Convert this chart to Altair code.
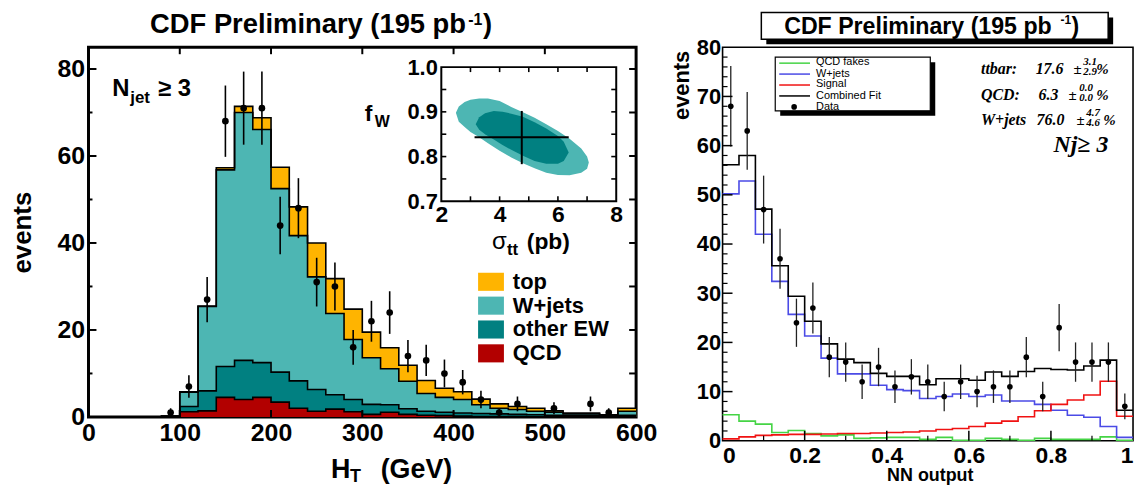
import altair as alt
import pandas as pd
import numpy as np

SANS = "Liberation Sans"
SERIF = "Liberation Serif"

# ================= LEFT PANEL DATA (H_T, stacked) =================
ht_edges = list(range(0, 620, 20))  # bin edges 0..600
ht_qcd = [0, 0, 0, 0, 0, 1.2, 1.4, 4.5, 4.0, 4.5, 3.4, 2.0, 1.3, 1.8, 1.2,
          0.6, 1.1, 0.6, 0.4, 0.3, 0.2, 0.1, 0.1, 0.1, 0.05, 0.05, 0.05, 0.05, 0.05, 0.1]
ht_ew = [0, 0, 0, 0, 0, 1.2, 4.6, 7.1, 9.0, 8.0, 6.9, 6.3, 5.0, 3.3, 2.8,
         2.3, 1.7, 1.3, 0.9, 0.8, 0.7, 0.7, 0.6, 0.5, 0.45, 0.35, 0.25, 0.25, 0.15, 0.3]
ht_wjets = [0, 0, 0, 0, 0.2, 3.3, 19.4, 45.2, 57.0, 53.6, 42.2, 33.4, 25.9, 18.7, 13.8,
            10.7, 8.3, 6.3, 4.1, 3.4, 3.1, 2.0, 1.3, 1.1, 0.8, 0.7, 0.4, 0.4, 0.2, 0.9]
ht_top = [0, 0, 0, 0, 0, 0.1, 0.1, 0.5, 1.4, 2.7, 4.9, 6.6, 7.8, 8.0, 7.0,
          5.9, 4.8, 3.7, 3.0, 2.1, 1.8, 1.3, 1.0, 0.7, 0.7, 0.3, 0.2, 0.2, 0.1, 0.7]
comp_names = ["QCD", "other EW", "W+jets", "top"]

ht_data_x = [90, 110, 130, 150, 170, 190, 210, 230, 250, 270, 290, 310, 330, 350,
             370, 390, 410, 430, 450, 470, 510, 550, 570]
ht_data_y = [1, 7, 27, 68, 71, 71, 44, 48, 31, 30, 16, 22, 24, 14, 13, 10, 8, 4, 1, 3, 2, 3, 1]
ht_data_err = [1.0, 2.6, 5.2, 8.2, 8.4, 8.4, 6.6, 6.9, 5.6, 5.5, 4.0, 4.7, 4.9, 3.7,
               3.6, 3.2, 2.8, 2.0, 1.0, 1.7, 1.4, 1.7, 1.0]

ht_x_labels = [0, 100, 200, 300, 400, 500, 600]
ht_y_labels = [0, 20, 40, 60, 80]

# inset: contours in (sigma_tt, f_W)
outer_sig = [2.5, 2.6, 2.8, 3.0, 3.3, 3.6, 4.0, 4.4, 4.8, 5.2, 5.6, 6.0, 6.4, 6.8, 7.0, 7.06]
outer_hi = [0.898, 0.912, 0.922, 0.927, 0.930, 0.930, 0.924, 0.911, 0.899, 0.887,
            0.872, 0.857, 0.840, 0.818, 0.800, 0.787]
outer_lo = [0.898, 0.878, 0.866, 0.855, 0.843, 0.830, 0.813, 0.798, 0.785, 0.774,
            0.764, 0.759, 0.758, 0.764, 0.773, 0.787]
inner_sig = [3.18, 3.3, 3.5, 3.8, 4.1, 4.4, 4.8, 5.2, 5.6, 6.0, 6.2, 6.37]
inner_hi = [0.872, 0.888, 0.897, 0.902, 0.900, 0.896, 0.889, 0.877, 0.863, 0.846, 0.833, 0.809]
inner_lo = [0.872, 0.860, 0.850, 0.838, 0.826, 0.815, 0.802, 0.790, 0.784, 0.784, 0.790, 0.809]
fit_sig, fit_sig_lo, fit_sig_hi = 4.76, 3.14, 6.37
fit_fw, fit_fw_lo, fit_fw_hi = 0.843, 0.783, 0.902

# ================= RIGHT PANEL DATA (NN output) =================
nn_edges = [round(i * 0.04, 2) for i in range(26)]
nn_centers = [round(0.02 + i * 0.04, 2) for i in range(25)]
nn_qcd = [5.3, 4.0, 3.4, 1.7, 2.1, 1.5, 1.0, 1.2, 0.5, 0.6, 0.7, 0.7, 0.3, 0.7, 0.1,
          0.1, 0.5, 0.3, 0.1, 0.5, 0.3, 0.3, 0.3, 0.8, 0.1]
nn_wjets = [50.2, 52.8, 42.0, 32.4, 25.7, 21.3, 16.8, 13.6, 13.6, 11.3, 10.4, 10.2, 8.6,
            9.0, 9.5, 9.0, 9.3, 8.1, 8.1, 7.4, 6.2, 5.2, 4.8, 2.9, 0.7]
nn_signal = [0.4, 0.8, 1.1, 1.2, 1.3, 1.3, 1.4, 1.5, 1.5, 1.6, 1.7, 1.8, 2.0, 2.3, 2.5,
             2.9, 3.6, 4.0, 4.9, 6.1, 7.4, 8.3, 9.3, 12.1, 5.0]
nn_comb = [56.1, 58.0, 47.1, 35.6, 29.4, 24.3, 19.7, 16.6, 15.9, 13.7, 13.1, 13.1, 11.4,
           12.6, 12.6, 12.3, 14.0, 13.1, 14.1, 14.7, 14.5, 14.4, 15.2, 16.4, 6.2]
nn_data = [68, 63, 47, 37, 24, 27, 17, 16, 12, 15, 11, 13, 12, 9, 12, 10, 11, 11, 17, 9,
           23, 16, 16, 16, 7]
nn_err = [8.2, 7.9, 6.9, 6.1, 4.9, 5.2, 4.1, 4.0, 3.5, 3.9, 3.3, 3.6, 3.5, 3.0, 3.5, 3.2,
          3.3, 3.3, 4.1, 3.0, 4.8, 4.0, 4.0, 4.0, 2.6]
nn_series = [("QCD fakes", nn_qcd, "#45d445"), ("W+jets", nn_wjets, "#4b4be6"),
             ("Signal", nn_signal, "#f01212"), ("Combined Fit", nn_comb, "#000000")]
nn_x_labels = [0, 0.2, 0.4, 0.6, 0.8, 1]
nn_y_labels = [0, 10, 20, 30, 40, 50, 60, 70, 80]

ONE = pd.DataFrame({"k": [0]})


def txt(text, x, y, size, weight="bold", font=SANS, style="normal", align="left",
        baseline="alphabetic", color="black"):
    return alt.Chart(ONE).mark_text(text=text, fontSize=size, fontWeight=weight, font=font,
                                    fontStyle=style, align=align, baseline=baseline,
                                    color=color).encode(x=alt.value(x), y=alt.value(y))


def ticks(vals, fixed, side, length, X, Y, thick=2.0):
    df = pd.DataFrame({"a": vals, "b": [fixed] * len(vals)})
    if side in ("bottom", "top"):
        off = -length / 2 if side == "bottom" else length / 2
        return alt.Chart(df).mark_tick(orient="vertical", size=length, thickness=thick,
                                       yOffset=off, color="black", opacity=1).encode(
            x=X("a:Q"), y=Y("b:Q"))
    off = length / 2 if side == "left" else -length / 2
    return alt.Chart(df).mark_tick(orient="horizontal", size=length, thickness=thick,
                                   xOffset=off, color="black", opacity=1).encode(
        x=X("b:Q"), y=Y("a:Q"))


# ---------------- left panel ----------------
LW, LH = 551, 372
XL = alt.Scale(domain=[0, 600], nice=False, zero=False)
YL = alt.Scale(domain=[0, 85], nice=False, zero=False)
x_axis_l = alt.Axis(values=ht_x_labels, labelFontSize=25, labelFontWeight="bold",
                    labelPadding=4, ticks=False, domain=False, grid=False, title=None,
                    labelOverlap=False, labelFlush=False, labelFont=SANS)
y_axis_l = alt.Axis(values=ht_y_labels, labelFontSize=25, labelFontWeight="bold",
                    labelPadding=4, ticks=False, domain=False, grid=False, title="events",
                    titleFontSize=26, titleFontWeight="bold", titleAngle=270, titleX=-58,
                    titleY=LH / 2, titleAlign="center", titleBaseline="alphabetic",
                    labelOverlap=False, labelFont=SANS, titleFont=SANS)


def XLe(f):
    return alt.X(f, scale=XL, axis=x_axis_l)


def YLe(f):
    return alt.Y(f, scale=YL, axis=y_axis_l, stack=None)


cum = np.cumsum(np.array([ht_qcd, ht_ew, ht_wjets, ht_top], dtype=float), axis=0)
rows = []
for name, c in zip(comp_names, cum):
    ys = list(c) + [c[-1]]
    for xv, yv in zip(ht_edges, ys):
        rows.append({"comp": name, "x": xv, "y": round(float(yv), 3)})
steps = pd.DataFrame(rows)

color_scale = alt.Scale(domain=["top", "W+jets", "other EW", "QCD"],
                        range=["#ffb400", "#4db6b3", "#018081", "#b20000"])
leg = alt.Legend(orient="none", legendX=392, legendY=223, title=None,
                 symbolType="M-1,-0.7H1V0.7H-1Z", symbolSize=676, symbolStrokeWidth=0,
                 symbolOpacity=1, labelFontSize=22, labelFontWeight="bold", labelFont=SANS,
                 labelOffset=9, rowPadding=0, padding=0, labelLimit=300)


def area(name):
    return alt.Chart(steps).transform_filter(alt.datum.comp == name).mark_area(
        interpolate="step-after").encode(
        x=XLe("x:Q"), y=YLe("y:Q"),
        color=alt.Color("comp:N", scale=color_scale, legend=leg))


step_lines = alt.Chart(steps).mark_line(interpolate="step-after", color="black",
                                        strokeWidth=1.6).encode(
    x=XLe("x:Q"), y=YLe("y:Q"), detail="comp:N")

pts_l = pd.DataFrame({"x": ht_data_x, "y": ht_data_y,
                      "lo": [max(0, a - b) for a, b in zip(ht_data_y, ht_data_err)],
                      "hi": [a + b for a, b in zip(ht_data_y, ht_data_err)]})
err_l = alt.Chart(pts_l).mark_rule(color="black", strokeWidth=1.6).encode(
    x=XLe("x:Q"), y=YLe("lo:Q"), y2="hi:Q")
dot_l = alt.Chart(pts_l).mark_circle(color="black", size=45, opacity=1).encode(
    x=XLe("x:Q"), y=YLe("y:Q"))

main_left = alt.layer(
    area("top"), area("W+jets"), area("other EW"), area("QCD"), step_lines, err_l, dot_l,
    ticks([100, 200, 300, 400, 500], 0, "bottom", 7, XLe, YLe),
    ticks([100, 200, 300, 400, 500], 85, "top", 7, XLe, YLe),
    ticks([20, 40, 60, 80], 0, "left", 8, XLe, YLe),
    ticks([10, 30, 50, 70], 0, "left", 4, XLe, YLe),
    ticks([10, 20, 30, 40, 50, 60, 70, 80], 600, "right", 7, XLe, YLe),
    # title
    txt("CDF Preliminary (195 pb", 62, -14, 27.5),
    txt("-1", 382, -22, 16),
    txt(")", 397, -14, 27.5),
    # N_jet >= 3
    txt("N", 24, 49, 24),
    txt("jet", 42, 56, 17),
    txt("\u2265 3", 70, 49, 24),
    # x title H_T (GeV)
    txt("H", 244, 433, 27),
    txt("T", 263, 437, 18),
    txt("(GeV)", 294, 433, 27),
    # inset titles
    txt("f", 278, 74, 23),
    txt("W", 288, 80, 16),
    txt("\u03c3", 406, 203, 24, weight="normal"),
    txt("tt", 421, 209, 17),
    txt("(pb)", 441, 203, 23),
)

XI = alt.Scale(domain=[2, 8], range=[355, 531], nice=False, zero=False)
YI = alt.Scale(domain=[0.7, 1.0], range=[155, 20], nice=False, zero=False)
x_axis_in = alt.Axis(orient="bottom", offset=-(LH - 155), values=[2, 4, 6, 8],
                     labelFontSize=23, labelFontWeight="bold", labelPadding=2, ticks=False,
                     domain=False, grid=False, title=None, labelOverlap=False,
                     labelFlush=False, labelFont=SANS)
y_axis_in = alt.Axis(orient="left", offset=-355, values=[0.7, 0.8, 0.9, 1.0], format=".1f",
                     labelFontSize=22, labelFontWeight="bold", labelPadding=4, ticks=False,
                     domain=False, grid=False, title=None, labelOverlap=False, labelFont=SANS)


def XIe(f):
    return alt.X(f, scale=XI, axis=x_axis_in)


def YIe(f):
    return alt.Y(f, scale=YI, axis=y_axis_in)


outer_df = pd.DataFrame({"s": outer_sig, "lo": outer_lo, "hi": outer_hi})
inner_df = pd.DataFrame({"s": inner_sig, "lo": inner_lo, "hi": inner_hi})
outer = alt.Chart(outer_df).mark_area(color="#4db6b3").encode(
    x=XIe("s:Q"), y=YIe("lo:Q"), y2="hi:Q")
inner = alt.Chart(inner_df).mark_area(color="#018081").encode(
    x=XIe("s:Q"), y=YIe("lo:Q"), y2="hi:Q")
cross_h = alt.Chart(pd.DataFrame({"a": [fit_sig_lo], "b": [fit_sig_hi], "f": [fit_fw]})).mark_rule(
    color="black", strokeWidth=2).encode(x=XIe("a:Q"), x2="b:Q", y=YIe("f:Q"))
cross_v = alt.Chart(pd.DataFrame({"s": [fit_sig], "a": [fit_fw_lo], "b": [fit_fw_hi]})).mark_rule(
    color="black", strokeWidth=2).encode(x=XIe("s:Q"), y=YIe("a:Q"), y2="b:Q")
frame = alt.Chart(pd.DataFrame({"x1": [2], "x2": [8], "y1": [0.7], "y2": [1.0]})).mark_rect(
    fillOpacity=0, stroke="black", strokeWidth=2).encode(
    x=XIe("x1:Q"), x2="x2:Q", y=YIe("y1:Q"), y2="y2:Q")

inset = alt.layer(
    outer, inner, cross_h, cross_v, frame,
    ticks([3, 4, 5, 6, 7], 0.7, "bottom", 5, XIe, YIe, 1.6),
    ticks([3, 4, 5, 6, 7], 1.0, "top", 5, XIe, YIe, 1.6),
    ticks([0.75, 0.8, 0.85, 0.9, 0.95], 2, "left", 5, XIe, YIe, 1.6),
    ticks([0.75, 0.8, 0.85, 0.9, 0.95], 8, "right", 5, XIe, YIe, 1.6),
)

left = alt.layer(main_left, inset).resolve_scale(x="independent", y="independent").properties(
    width=LW, height=LH, view=alt.ViewBackground(stroke="black", strokeWidth=3))

# ---------------- right panel ----------------
RW, RH = 413, 396
XR = alt.Scale(domain=[0, 1], nice=False, zero=False)
YR = alt.Scale(domain=[0, 80], nice=False, zero=False)
x_axis_r = alt.Axis(values=nn_x_labels, format="~g", labelFontSize=23, labelFontWeight="bold",
                    labelPadding=4, ticks=False, domain=False, grid=False, title="NN output",
                    titleFontSize=18, titleFontWeight="bold", titleX=RW / 2 + 2, titleY=40,
                    titleBaseline="alphabetic", labelFlush=True, labelFlushOffset=0,
                    labelOverlap=False, labelFont=SANS, titleFont=SANS)
y_axis_r = alt.Axis(values=nn_y_labels, labelFontSize=22, labelFontWeight="bold",
                    labelPadding=2, ticks=False, domain=False, grid=False, title="events",
                    titleFontSize=22, titleFontWeight="bold", titleAngle=270, titleX=-34,
                    titleY=3, titleAlign="right", titleBaseline="alphabetic",
                    labelOverlap=False, labelFont=SANS, titleFont=SANS)


def XRe(f):
    return alt.X(f, scale=XR, axis=x_axis_r)


def YRe(f):
    return alt.Y(f, scale=YR, axis=y_axis_r)


nn_rows = []
for name, vals, col in nn_series:
    for xv, yv in zip(nn_edges, list(vals) + [vals[-1]]):
        nn_rows.append({"series": name, "x": xv, "y": yv})
nn_steps = pd.DataFrame(nn_rows)

nn_layers = []
for name, vals, col in nn_series:
    nn_layers.append(
        alt.Chart(nn_steps).transform_filter(alt.datum.series == name).mark_line(
            interpolate="step-after", color=col, strokeWidth=1.6).encode(
            x=XRe("x:Q"), y=YRe("y:Q")))

pts_r = pd.DataFrame({"x": nn_centers, "y": nn_data,
                      "lo": [a - b for a, b in zip(nn_data, nn_err)],
                      "hi": [a + b for a, b in zip(nn_data, nn_err)]})
err_r = alt.Chart(pts_r).mark_rule(color="#222222", strokeWidth=1.3).encode(
    x=XRe("x:Q"), y=YRe("lo:Q"), y2="hi:Q")
dot_r = alt.Chart(pts_r).mark_circle(color="black", size=32, opacity=1).encode(
    x=XRe("x:Q"), y=YRe("y:Q"))


def box(x1, x2, y1, y2, fill, stroke=None, sw=0):
    kw = dict(fill=fill)
    if stroke:
        kw.update(stroke=stroke, strokeWidth=sw)
    return alt.Chart(ONE).mark_rect(**kw).encode(
        x=alt.value(x1), x2=alt.value(x2), y=alt.value(y1), y2=alt.value(y2))


def hline(x1, x2, y, color, sw=1.5):
    return alt.Chart(ONE).mark_rule(color=color, strokeWidth=sw).encode(
        x=alt.value(x1), x2=alt.value(x2), y=alt.value(y))


legend_items = [("QCD fakes", "#45d445", 16, 15), ("W+jets", "#4b4be6", 27, 27),
                ("Signal", "#f01212", 38, 37.5), ("Combined Fit", "#000000", 49, 49)]
deco = [
    box(44, 393, -30, -3, "black"),
    box(39, 388, -35, -8, "white", "black", 1.5),
    txt("CDF Preliminary (195 pb", 62, -13, 23.3),
    txt("-1", 340, -23, 12),
    txt(")", 351, -13, 23.3),
    box(58, 214, 15, 69, "black"),
    box(53, 209, 10, 64, "white", "black", 1.2),
]
for lab, col, ly, ty in legend_items:
    deco.append(hline(57, 88, ly, col))
    deco.append(txt(lab, 94, ty, 11, weight="normal", baseline="middle"))
deco.append(alt.Chart(ONE).mark_circle(color="black", size=32, opacity=1).encode(
    x=alt.value(72), y=alt.value(60)))
deco.append(txt("Data", 94, 60, 11, weight="normal", baseline="middle"))

ann = []
rows_ann = [("ttbar:", "17.6", "3.1", "2.9", 27, 315, 353, 363, 376),
            ("QCD:", "6.3", "0.0", "0.0", 53, 318, 348, 359, 376),
            ("W+jets", "76.0", "4.7", "4.6", 78, 316, 356, 366, 383)]
for lab, val, up, dn, by, vx, pmx, sx, px in rows_ann:
    ann.append(txt(lab, 260, by, 16, font=SERIF, style="italic"))
    ann.append(txt(val, vx, by, 16, font=SERIF, style="italic"))
    ann.append(txt("\u00b1", pmx, by, 15, font=SERIF, style="italic"))
    ann.append(txt(up, sx, by - 9, 11, font=SERIF, style="italic"))
    ann.append(txt(dn, sx, by + 1, 11, font=SERIF, style="italic"))
    ann.append(txt("%", px, by, 15, font=SERIF, style="italic"))
ann.append(txt("Nj\u2265 3", 333, 105, 24, font=SERIF, style="italic"))

right = alt.layer(
    *nn_layers, err_r, dot_r,
    ticks([10, 20, 30, 40, 50, 60, 70], 0, "left", 10, XRe, YRe, 1.5),
    ticks([v for v in range(2, 80, 2) if v % 10 != 0], 0, "left", 5, XRe, YRe, 1.2),
    ticks([0.2, 0.4, 0.6, 0.8], 0, "bottom", 10, XRe, YRe, 1.5),
    ticks([0.1, 0.3, 0.5, 0.7, 0.9], 0, "bottom", 5, XRe, YRe, 1.2),
    *deco, *ann,
).properties(width=RW, height=RH, view=alt.ViewBackground(stroke="black", strokeWidth=1.6))

chart = alt.hconcat(left, right, spacing=87).properties(
    bounds="flush", padding={"left": 0, "right": 0, "top": 0, "bottom": 0}
).configure(font=SANS)

chart.save("out.html", embed_options={"renderer": "svg", "actions": False})
